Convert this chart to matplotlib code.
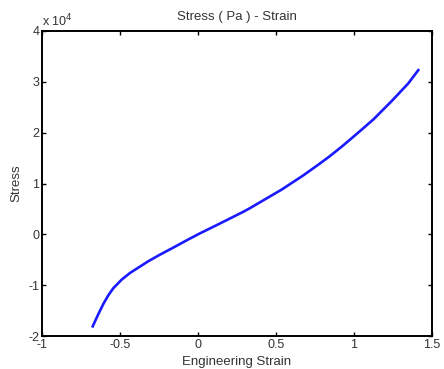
import matplotlib
matplotlib.use("Agg")
import matplotlib.pyplot as plt
from matplotlib.ticker import FuncFormatter

strain = [-0.675, -0.639, -0.607, -0.575, -0.543, -0.489, -0.436, -0.319,
          -0.244, -0.158, -0.062, 0.013, 0.099, 0.194, 0.291, 0.333, 0.536,
          0.675, 0.771, 0.846, 0.931, 1.038, 1.124, 1.241, 1.348, 1.412]
stress = [-18100, -15700, -13700, -12000, -10600, -8900, -7600, -5300,
          -4000, -2600, -1000, 200, 1500, 2950, 4450, 5150, 8800,
          11600, 13700, 15400, 17500, 20300, 22600, 26200, 29700, 32300]
xticks = [-1, -0.5, 0, 0.5, 1, 1.5]
xticklabels = ["-1", "-0.5", "0", "0.5", "1", "1.5"]
yticks = [-20000, -10000, 0, 10000, 20000, 30000, 40000]

plt.rcParams['font.family'] = ['Liberation Sans', 'DejaVu Sans']
fig = plt.figure(figsize=(4.44, 3.69), dpi=100)
ax = fig.add_axes([0.0946, 0.0894, 0.973 - 0.0946, 0.916 - 0.0894])
ax.plot(strain, stress, color='#1a1aff', lw=1.9)
ax.set_xlim(-1, 1.5)
ax.set_ylim(-20000, 40000)
ax.set_xticks(xticks)
ax.set_xticklabels(xticklabels)
ax.set_yticks(yticks)
ax.yaxis.set_major_formatter(FuncFormatter(lambda v, p: f"{v/1e4:g}"))
ax.tick_params(direction='in', top=True, right=True, length=3, width=1,
               labelsize=9, labelcolor='#333333', pad=2)
for s in ax.spines.values():
    s.set_linewidth(1.4)
ax.set_title("Stress ( Pa ) - Strain", fontsize=9.5, color='#333333', pad=8)
ax.set_xlabel("Engineering Strain", fontsize=9.5, color='#333333', labelpad=4)
ax.set_ylabel("Stress", fontsize=9.5, color='#333333', labelpad=4)
ax.text(0.0, 1.005, "x 10$^{4}$", transform=ax.transAxes, fontsize=9,
        color='#333333', ha='left', va='bottom')
fig.savefig("out.png", dpi=100)
